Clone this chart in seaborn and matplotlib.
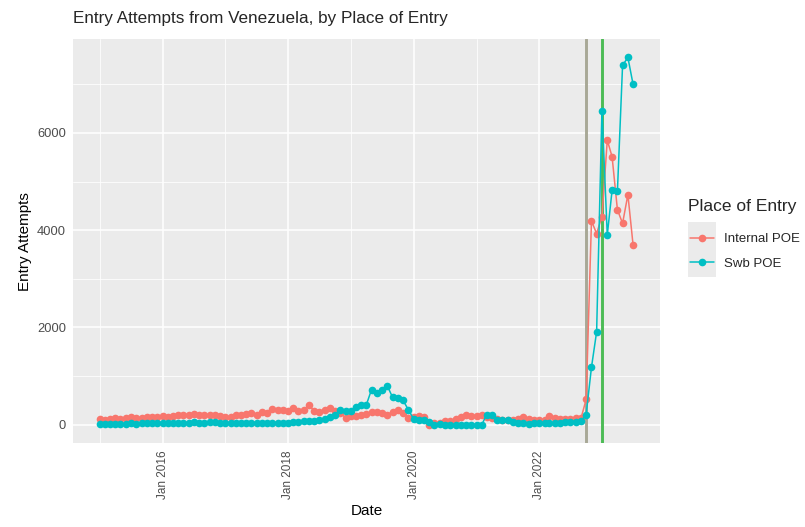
import pandas as pd
import numpy as np
import matplotlib
matplotlib.use("Agg")
import matplotlib.pyplot as plt
import matplotlib.dates as mdates
from matplotlib.patches import Rectangle
import seaborn as sns

# monthly entry attempts, Jan 2015 - Jul 2023
months = pd.date_range("2015-01-01", "2023-07-01", freq="MS")

internal_poe = (
    [120, 100, 110, 130, 120, 140, 150, 140, 130, 150, 160, 150]      # 2015
    + [170, 160, 180, 200, 190, 210, 220, 190, 200, 210, 190, 180]    # 2016
    + [150, 160, 190, 200, 230, 240, 210, 260, 250, 330, 300, 300]    # 2017
    + [280, 350, 280, 300, 400, 290, 270, 310, 340, 280, 250, 140]    # 2018
    + [175, 180, 210, 220, 265, 265, 250, 210, 260, 310, 245, 140]    # 2019
    + [150, 170, 150, 0, 30, 30, 80, 70, 120, 150, 210, 180]          # 2020
    + [180, 190, 160, 140, 120, 100, 100, 100, 110, 160, 110, 90]     # 2021
    + [90, 90, 170, 130, 120, 110, 120, 130, 130, 520, 4190, 3930]    # 2022
    + [4280, 5850, 5510, 4420, 4140, 4730, 3700]                      # 2023
)
swb_poe = (
    [10, 10, 20, 20, 20, 20, 30, 20, 30, 30, 30, 30]
    + [30, 30, 40, 40, 40, 40, 50, 40, 40, 50, 50, 40]
    + [40, 40, 30, 30, 40, 40, 30, 40, 40, 40, 40, 40]
    + [40, 50, 60, 70, 70, 70, 90, 120, 160, 190, 310, 280]
    + [280, 370, 400, 410, 720, 650, 720, 800, 560, 540, 500, 310]
    + [120, 90, 90, 50, 0, 10, 0, 0, 0, 0, 0, 0]
    + [0, 0, 210, 200, 100, 100, 90, 50, 30, 30, 20, 30]
    + [30, 30, 40, 40, 40, 50, 50, 60, 70, 210, 1180, 1910]
    + [6460, 3900, 4820, 4800, 7390, 7550, 7000]
)
places = ["Internal POE", "Swb POE"]
colors = ["#F8766D", "#00BFC4"]
event_dates = [pd.Timestamp("2022-10-01"), pd.Timestamp("2023-01-01")]
event_colors = ["#a8a896", "#4cbb55"]
minor_years = [2015, 2017, 2019, 2021, 2023]

df = pd.DataFrame({"Date": months, "Internal POE": internal_poe, "Swb POE": swb_poe})
df = df.melt(id_vars="Date", var_name="Place of Entry", value_name="Entry Attempts")

sns.set_theme(style="darkgrid", rc={
    "axes.facecolor": "#EBEBEB",
    "grid.color": "white",
    "figure.facecolor": "white",
})
plt.rcParams["font.family"] = ["Liberation Sans", "DejaVu Sans"]

fig = plt.figure(figsize=(8.05, 5.27), dpi=100)
ax = fig.add_axes([0.0907, 0.159, 0.729, 0.767])

for d, c in zip(event_dates, event_colors):
    ax.axvline(d, color=c, linewidth=2.1, zorder=1)

sns.lineplot(data=df, x="Date", y="Entry Attempts", hue="Place of Entry",
             hue_order=places, palette=colors, marker="o", markersize=5.5,
             markeredgewidth=0, linewidth=1.1, ax=ax, zorder=3)

ax.set_xlim(months[0] - pd.Timedelta(days=156), months[-1] + pd.Timedelta(days=156))
ax.set_ylim(-380, 7930)

ax.xaxis.set_major_locator(mdates.YearLocator(base=2))
ax.xaxis.set_major_formatter(mdates.DateFormatter("%b %Y"))
ax.xaxis.set_minor_locator(matplotlib.ticker.FixedLocator(
    [mdates.date2num(pd.Timestamp(f"{y}-01-01")) for y in minor_years]))
ax.set_yticks([0, 2000, 4000, 6000])
ax.yaxis.set_minor_locator(matplotlib.ticker.FixedLocator([1000, 3000, 5000, 7000]))
ax.grid(which="major", color="white", linewidth=1.1)
ax.grid(which="minor", color="white", linewidth=0.55)
ax.tick_params(which="major", length=3, width=0.8, color="#333333",
               labelcolor="#4D4D4D", pad=2)
ax.tick_params(axis="x", labelsize=8.5, labelrotation=90)
ax.tick_params(axis="y", labelsize=9.3)
ax.tick_params(which="minor", length=0)
for s in ax.spines.values():
    s.set_visible(False)

ax.set_xlabel("Date", fontsize=11, color="black", labelpad=4)
ax.set_ylabel("Entry Attempts", fontsize=11, color="black", labelpad=4)
ax.set_title("Entry Attempts from Venezuela, by Place of Entry", fontsize=12.3,
             loc="left", x=0.0, pad=11.5)

handles, labels = ax.get_legend_handles_labels()
ax.legend_.remove()
fig.patches.append(Rectangle((688 / 805, 1 - 277 / 527), 28 / 805, 55 / 527,
                             transform=fig.transFigure, facecolor="#EBEBEB",
                             edgecolor="none", zorder=0))
fig.text(688 / 805, 1 - 207 / 527, "Place of Entry", fontsize=12.5, va="center", ha="left")
fig.legend(handles, labels, loc="upper left", bbox_to_anchor=(690 / 805, 1 - 233 / 527),
           frameon=False, fontsize=9.5, handlelength=1.8, handletextpad=0.75,
           labelspacing=0.95, borderpad=0, borderaxespad=0)

fig.savefig("out.png", dpi=100)
